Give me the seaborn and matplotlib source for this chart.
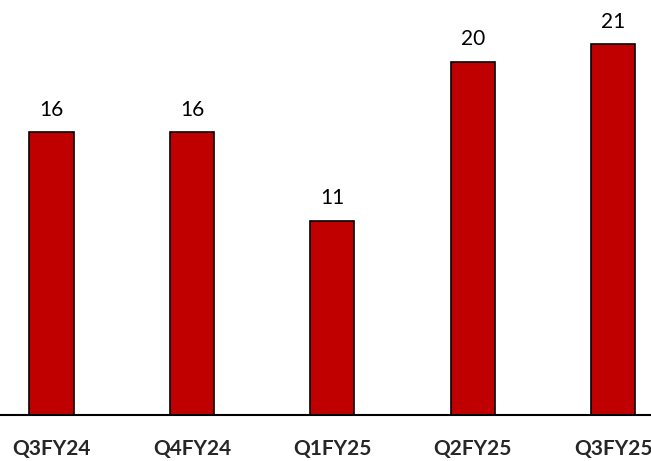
import matplotlib
matplotlib.use("Agg")
import matplotlib.pyplot as plt
import seaborn as sns
import pandas as pd

quarters = ["Q3FY24", "Q4FY24", "Q1FY25", "Q2FY25", "Q3FY25"]
values = [16, 16, 11, 20, 21]

sns.set_theme(style="white")
plt.rcParams["font.family"] = ["Lato", "DejaVu Sans"]

df = pd.DataFrame({"quarter": quarters, "value": values})

fig = plt.figure(figsize=(6.51, 4.61), dpi=100)
ax = fig.add_axes([0.0, 1 - 415 / 461, 1.0, 415 / 461])

sns.barplot(data=df, x="quarter", y="value", color="#C00000", saturation=1,
            edgecolor="black", linewidth=1.2, width=0.315, ax=ax)

for container in ax.containers:
    ax.bar_label(container, labels=[str(v) for v in values], padding=9,
                 fontsize=15, color="black")

ax.set_xlim(-0.367, 4.27)
ax.set_ylim(0, 23.5)
ax.set_xlabel("")
ax.set_ylabel("")
ax.set_yticks([])
for side in ["top", "right", "left"]:
    ax.spines[side].set_visible(False)
ax.spines["bottom"].set_color("black")
ax.spines["bottom"].set_linewidth(1.5)
ax.tick_params(axis="x", length=0, pad=17, labelsize=15)
for lbl in ax.get_xticklabels():
    lbl.set_fontweight("bold")

fig.savefig("out.png", dpi=100)
